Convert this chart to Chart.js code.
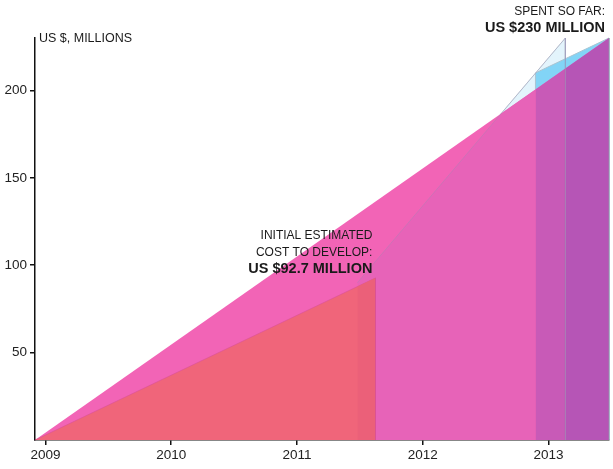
<!DOCTYPE html>
<html>
<head>
<meta charset="utf-8">
<script src="https://cdn.jsdelivr.net/npm/chart.js@4.4.1/dist/chart.umd.min.js"></script>
<style>
  html, body { margin: 0; padding: 0; background: #fff; }
  canvas { display: block; }
</style>
</head>
<body>
<canvas id="myChart" width="613" height="469"></canvas>
<script>
// values (x in years, y in US$ millions)
const years = [2009, 2010, 2011, 2012, 2013];
const yTicks = [50, 100, 150, 200];
const xMin = 2008.917;
const xMax = 2013.482;
const yMax = 230;

const spentX = [2008.917, 2013.482];
const spentY = [0, 230];
const estimateX = [2008.917, 2011.624, 2011.624];
const estimateY = [0, 92.7, 0];
const forecastX = [2011.481, 2011.481, 2013.135, 2013.135];
const forecastY = [0, 90, 230, 0];
const latestX = [2012.897, 2012.897, 2013.482, 2013.482];
const latestY = [0, 210, 230, 0];

const FONT = "'Liberation Sans', Arial, sans-serif";

const pts = (xs, ys) => xs.map((x, i) => ({x, y: ys[i]}));
const lineAt = (x0, y0, x1, y1) => x => y0 + (y1 - y0) * (x - x0) / (x1 - x0);

const spentAt = lineAt(spentX[0], spentY[0], spentX[1], spentY[1]);
const estimateAt = lineAt(estimateX[0], estimateY[0], estimateX[1], estimateY[1]);
const forecastAt = lineAt(forecastX[1], forecastY[1], forecastX[2], forecastY[2]);

// where the forecast line climbs past the spending line
const slopeS = (spentY[1] - spentY[0]) / (spentX[1] - spentX[0]);
const slopeF = (forecastY[2] - forecastY[1]) / (forecastX[2] - forecastX[1]);
const crossX = (forecastY[1] - slopeF * forecastX[1] - spentY[0] + slopeS * spentX[0]) / (slopeS - slopeF);
const crossY = spentAt(crossX);

function area(data, bg, border, width) {
  return {
    data,
    showLine: true,
    fill: "origin",
    backgroundColor: bg,
    borderColor: border || "transparent",
    borderWidth: width || 0,
    pointRadius: 0,
    tension: 0,
    clip: 2,
  };
}

// back to front
const layers = [
  area(pts(forecastX, forecastY), "#e3f4fc", "#c3d0d7", 1),
  area(pts(latestX, latestY), "#82d4f6", "#a8c4d2", 1),
  area(pts(spentX, spentY), "#f264b6"),
  area([
    {x: forecastX[0], y: 0},
    {x: forecastX[1], y: forecastY[1]},
    {x: crossX, y: crossY},
    {x: latestX[0], y: spentAt(latestX[0])},
    {x: latestX[0], y: 0},
  ], "#e763b8"),
  area([
    {x: latestX[0], y: 0},
    {x: latestX[0], y: spentAt(latestX[0])},
    {x: forecastX[2], y: spentAt(forecastX[2])},
    {x: forecastX[2], y: 0},
  ], "#c85ab7"),
  area([
    {x: forecastX[2], y: 0},
    {x: forecastX[2], y: spentAt(forecastX[2])},
    {x: spentX[1], y: spentY[1]},
    {x: spentX[1], y: 0},
  ], "#b655b6"),
  area(pts(estimateX, estimateY), "#f0657a", "rgba(215,80,150,0.55)", 1),
  area([
    {x: forecastX[0], y: 0},
    {x: forecastX[0], y: estimateAt(forecastX[0])},
    {x: estimateX[1], y: estimateY[1]},
    {x: estimateX[2], y: 0},
  ], "#eb6079"),
  // outline of the forecast wedge showing through
  {
    data: pts(forecastX.slice(1), forecastY.slice(1)),
    showLine: true, fill: false, pointRadius: 0, clip: 2,
    borderColor: "rgba(150,140,180,0.35)", borderWidth: 1,
  },
  {
    data: pts([spentX[1], spentX[1]], [0, spentY[1]]),
    showLine: true, fill: false, pointRadius: 0, clip: 2,
    borderColor: "rgba(150,150,170,0.7)", borderWidth: 1,
  },
];

const notes = {
  id: "notes",
  afterDraw(chart) {
    const {ctx, chartArea, scales: {x, y}} = chart;
    ctx.save();
    ctx.fillStyle = "#1a1a1a";
    ctx.textBaseline = "alphabetic";

    ctx.textAlign = "left";
    ctx.font = `12.5px ${FONT}`;
    ctx.fillText("US $, MILLIONS", chartArea.left + 4, chartArea.top + 4);

    ctx.textAlign = "right";
    const r = chartArea.right - 4;
    ctx.font = `12px ${FONT}`;
    ctx.fillText("SPENT SO FAR:", r, chartArea.top - 23);
    ctx.font = `bold 14.5px ${FONT}`;
    ctx.fillText("US $230 MILLION", r, chartArea.top - 6);

    const px = x.getPixelForValue(estimateX[1]) - 3;
    const py = y.getPixelForValue(estimateY[1]);
    ctx.font = `12px ${FONT}`;
    ctx.fillText("INITIAL ESTIMATED", px, py - 39);
    ctx.fillText("COST TO DEVELOP:", px, py - 22);
    ctx.font = `bold 14.5px ${FONT}`;
    ctx.fillText("US $92.7 MILLION", px, py - 4.5);
    ctx.restore();
  }
};

new Chart(document.getElementById("myChart"), {
  type: "scatter",
  data: {datasets: layers.reverse()},
  options: {
    responsive: false,
    animation: false,
    layout: {padding: {top: 38, right: 4, left: 0, bottom: 0}},
    plugins: {legend: {display: false}, tooltip: {enabled: false}},
    scales: {
      x: {
        type: "linear",
        min: xMin,
        max: xMax,
        afterBuildTicks: scale => { scale.ticks = years.map(v => ({value: v})); },
        afterFit: scale => { scale.height = 29; },
        border: {color: "#111", width: 1.5},
        grid: {drawOnChartArea: false, tickLength: 5, color: "#111", lineWidth: 1.5},
        ticks: {
          color: "#222", padding: 2, maxRotation: 0, autoSkip: false,
          font: {family: FONT, size: 13.5},
          callback: v => String(v),
        },
      },
      y: {
        min: 0,
        max: yMax,
        afterBuildTicks: scale => { scale.ticks = yTicks.map(v => ({value: v})); },
        afterFit: scale => { scale.width = 35; },
        border: {color: "#111", width: 1.5},
        grid: {drawOnChartArea: false, tickLength: 5, color: "#111", lineWidth: 1.5},
        ticks: {
          color: "#222", padding: 3,
          font: {family: FONT, size: 13.5},
          callback: v => String(v),
        },
      },
    },
  },
  plugins: [notes],
});
</script>
</body>
</html>
